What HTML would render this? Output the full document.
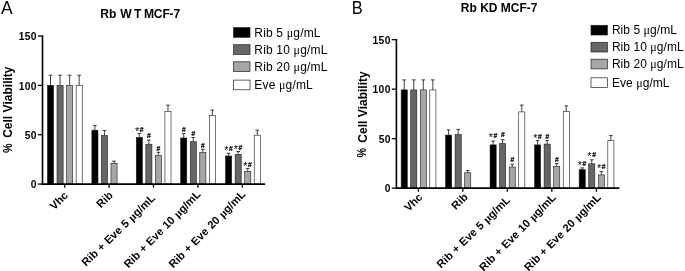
<!DOCTYPE html>
<html lang="en"><head><meta charset="utf-8"><title>Cell viability: Rb WT and Rb KD MCF-7</title>
<style>
html,body{margin:0;padding:0;background:#fff;}
body{width:685px;height:271px;overflow:hidden;}
svg{display:block;}
.mu{font-family:"Liberation Serif","DejaVu Serif",serif;font-weight:normal;}
.mub{font-family:"Liberation Serif","DejaVu Serif",serif;font-weight:bold;}
</style></head><body>
<svg width="685" height="271" viewBox="0 0 685 271" font-family='"Liberation Sans", Arial, sans-serif' fill="#000" style="font-kerning:none">
<rect width="685" height="271" fill="#fff"/>
<text transform="translate(0.9 14.1) scale(0.96 1)" font-size="18.2">A</text>
<text transform="translate(351.7 14.4) scale(0.9 1)" font-size="18.2">B</text>
<text y="18.3" font-size="12.1" font-weight="bold"><tspan x="100.2">Rb </tspan><tspan x="120.2">W</tspan><tspan x="134.0">T </tspan><tspan x="144.0" letter-spacing="-0.2">MCF-7</tspan></text>
<text x="499.2" y="12.3" text-anchor="middle" font-size="12" font-weight="bold">Rb KD MCF-7</text>
<text transform="translate(11.6 152.9) rotate(-90) scale(0.9 1.08)" font-size="12" font-weight="bold">%</text>
<text transform="translate(11.7 66.5) rotate(-90)" text-anchor="end" font-size="12" font-weight="bold">Cell Viability</text>
<text transform="translate(366.4 157.5) rotate(-90) scale(0.9 1.08)" font-size="12" font-weight="bold">%</text>
<text transform="translate(366.5 71.3) rotate(-90)" text-anchor="end" font-size="12" font-weight="bold">Cell Viability</text>
<path d="M50.52 85.30V75.20M48.67 75.20H52.38" stroke="#111" stroke-width="0.8" fill="none"/>
<rect x="47.48" y="85.30" width="6.10" height="98.75" fill="#000000" stroke="#1a1a1a" stroke-width="0.6"/>
<path d="M60.07 85.30V75.20M58.22 75.20H61.92" stroke="#111" stroke-width="0.8" fill="none"/>
<rect x="57.02" y="85.30" width="6.10" height="98.75" fill="#666666" stroke="#1a1a1a" stroke-width="0.6"/>
<path d="M69.63 85.30V75.20M67.78 75.20H71.48" stroke="#111" stroke-width="0.8" fill="none"/>
<rect x="66.58" y="85.30" width="6.10" height="98.75" fill="#a6a6a6" stroke="#1a1a1a" stroke-width="0.6"/>
<path d="M79.18 85.30V75.20M77.33 75.20H81.03" stroke="#111" stroke-width="0.8" fill="none"/>
<rect x="76.13" y="85.30" width="6.10" height="98.75" fill="#ffffff" stroke="#1a1a1a" stroke-width="0.6"/>
<path d="M94.92 130.20V125.40M93.08 125.40H96.77" stroke="#111" stroke-width="0.8" fill="none"/>
<rect x="91.88" y="130.20" width="6.10" height="53.85" fill="#000000" stroke="#1a1a1a" stroke-width="0.6"/>
<path d="M104.47 135.50V130.50M102.62 130.50H106.32" stroke="#111" stroke-width="0.8" fill="none"/>
<rect x="101.42" y="135.50" width="6.10" height="48.55" fill="#666666" stroke="#1a1a1a" stroke-width="0.6"/>
<path d="M114.02 163.30V161.10M112.17 161.10H115.87" stroke="#111" stroke-width="0.8" fill="none"/>
<rect x="110.97" y="163.30" width="6.10" height="20.75" fill="#a6a6a6" stroke="#1a1a1a" stroke-width="0.6"/>
<path d="M139.33 137.50V133.60M137.48 133.60H141.18" stroke="#111" stroke-width="0.8" fill="none"/>
<rect x="136.28" y="137.50" width="6.10" height="46.55" fill="#000000" stroke="#1a1a1a" stroke-width="0.6"/>
<path d="M148.88 144.20V140.20M147.03 140.20H150.73" stroke="#111" stroke-width="0.8" fill="none"/>
<rect x="145.83" y="144.20" width="6.10" height="39.85" fill="#666666" stroke="#1a1a1a" stroke-width="0.6"/>
<path d="M158.43 155.50V152.30M156.58 152.30H160.28" stroke="#111" stroke-width="0.8" fill="none"/>
<rect x="155.38" y="155.50" width="6.10" height="28.55" fill="#a6a6a6" stroke="#1a1a1a" stroke-width="0.6"/>
<path d="M167.98 111.50V105.20M166.13 105.20H169.83" stroke="#111" stroke-width="0.8" fill="none"/>
<rect x="164.93" y="111.50" width="6.10" height="72.55" fill="#ffffff" stroke="#1a1a1a" stroke-width="0.6"/>
<path d="M183.73 138.00V133.60M181.88 133.60H185.58" stroke="#111" stroke-width="0.8" fill="none"/>
<rect x="180.68" y="138.00" width="6.10" height="46.05" fill="#000000" stroke="#1a1a1a" stroke-width="0.6"/>
<path d="M193.28 141.70V137.50M191.43 137.50H195.13" stroke="#111" stroke-width="0.8" fill="none"/>
<rect x="190.23" y="141.70" width="6.10" height="42.35" fill="#666666" stroke="#1a1a1a" stroke-width="0.6"/>
<path d="M202.83 152.60V149.30M200.98 149.30H204.68" stroke="#111" stroke-width="0.8" fill="none"/>
<rect x="199.78" y="152.60" width="6.10" height="31.45" fill="#a6a6a6" stroke="#1a1a1a" stroke-width="0.6"/>
<path d="M212.38 115.50V110.00M210.53 110.00H214.23" stroke="#111" stroke-width="0.8" fill="none"/>
<rect x="209.33" y="115.50" width="6.10" height="68.55" fill="#ffffff" stroke="#1a1a1a" stroke-width="0.6"/>
<path d="M228.63 156.00V153.30M226.78 153.30H230.48" stroke="#111" stroke-width="0.8" fill="none"/>
<rect x="225.58" y="156.00" width="6.10" height="28.05" fill="#000000" stroke="#1a1a1a" stroke-width="0.6"/>
<path d="M238.18 154.50V151.50M236.33 151.50H240.03" stroke="#111" stroke-width="0.8" fill="none"/>
<rect x="235.13" y="154.50" width="6.10" height="29.55" fill="#666666" stroke="#1a1a1a" stroke-width="0.6"/>
<path d="M247.73 171.40V168.40M245.88 168.40H249.58" stroke="#111" stroke-width="0.8" fill="none"/>
<rect x="244.68" y="171.40" width="6.10" height="12.65" fill="#a6a6a6" stroke="#1a1a1a" stroke-width="0.6"/>
<path d="M257.28 135.20V130.20M255.43 130.20H259.13" stroke="#111" stroke-width="0.8" fill="none"/>
<rect x="254.23" y="135.20" width="6.10" height="48.85" fill="#ffffff" stroke="#1a1a1a" stroke-width="0.6"/>
<path d="M42.50 35.30V184.95" stroke="#000" stroke-width="1.6" fill="none"/>
<path d="M41.75 184.05H265.10" stroke="#000" stroke-width="1.8" fill="none"/>
<path d="M37.90 184.05H42.50" stroke="#000" stroke-width="1.3"/>
<text x="36.80" y="188.20" text-anchor="end" font-size="10.3" font-weight="bold" letter-spacing="0.3">0</text>
<path d="M37.90 134.72H42.50" stroke="#000" stroke-width="1.3"/>
<text x="36.80" y="138.87" text-anchor="end" font-size="10.3" font-weight="bold" letter-spacing="0.3">50</text>
<path d="M37.90 85.38H42.50" stroke="#000" stroke-width="1.3"/>
<text x="36.80" y="89.53" text-anchor="end" font-size="10.3" font-weight="bold" letter-spacing="0.3">100</text>
<path d="M37.90 36.05H42.50" stroke="#000" stroke-width="1.3"/>
<text x="36.80" y="40.20" text-anchor="end" font-size="10.3" font-weight="bold" letter-spacing="0.3">150</text>
<path d="M64.70 184.05V187.65" stroke="#000" stroke-width="1.3"/>
<path d="M109.10 184.05V187.65" stroke="#000" stroke-width="1.3"/>
<path d="M153.50 184.05V187.65" stroke="#000" stroke-width="1.3"/>
<path d="M197.90 184.05V187.65" stroke="#000" stroke-width="1.3"/>
<path d="M242.30 184.05V187.65" stroke="#000" stroke-width="1.3"/>
<text transform="translate(68.60 196.30) rotate(-44.5)" text-anchor="end" font-size="11.05" font-weight="bold" word-spacing="0.6">Vhc</text>
<text transform="translate(113.50 196.10) rotate(-44.5)" text-anchor="end" font-size="11.05" font-weight="bold" word-spacing="0.6">Rib</text>
<text transform="translate(155.90 198.90) rotate(-44.2)" text-anchor="end" font-size="11.05" font-weight="bold" word-spacing="0.6">Rib + Eve 5 <tspan class="mub">μ</tspan>g/mL</text>
<text transform="translate(201.20 195.00) rotate(-45.3)" text-anchor="end" font-size="11.05" font-weight="bold" word-spacing="0.6">Rib + Eve 10 <tspan class="mub">μ</tspan>g/mL</text>
<text transform="translate(246.10 195.00) rotate(-45.3)" text-anchor="end" font-size="11.05" font-weight="bold" word-spacing="0.6">Rib + Eve 20 <tspan class="mub">μ</tspan>g/mL</text>
<text x="134.91" y="134.60" font-size="10.8">*</text>
<text x="139.71" y="131.65" font-size="6.7" font-weight="bold" stroke="#000" stroke-width="0.22">#</text>
<text x="147.07" y="138.25" font-size="6.7" font-weight="bold" stroke="#000" stroke-width="0.22">#</text>
<text x="156.62" y="150.55" font-size="6.7" font-weight="bold" stroke="#000" stroke-width="0.22">#</text>
<text x="181.93" y="131.55" font-size="6.7" font-weight="bold" stroke="#000" stroke-width="0.22">#</text>
<text x="191.47" y="136.15" font-size="6.7" font-weight="bold" stroke="#000" stroke-width="0.22">#</text>
<text x="201.03" y="148.25" font-size="6.7" font-weight="bold" stroke="#000" stroke-width="0.22">#</text>
<text x="224.21" y="153.50" font-size="10.8">*</text>
<text x="229.01" y="150.55" font-size="6.7" font-weight="bold" stroke="#000" stroke-width="0.22">#</text>
<text x="233.76" y="153.10" font-size="10.8">*</text>
<text x="238.56" y="150.15" font-size="6.7" font-weight="bold" stroke="#000" stroke-width="0.22">#</text>
<text x="243.31" y="169.90" font-size="10.8">*</text>
<text x="248.11" y="166.95" font-size="6.7" font-weight="bold" stroke="#000" stroke-width="0.22">#</text>
<path d="M404.22 89.90V79.90M402.37 79.90H406.07" stroke="#111" stroke-width="0.8" fill="none"/>
<rect x="401.17" y="89.90" width="6.10" height="98.25" fill="#000000" stroke="#1a1a1a" stroke-width="0.6"/>
<path d="M413.77 89.90V79.90M411.92 79.90H415.62" stroke="#111" stroke-width="0.8" fill="none"/>
<rect x="410.72" y="89.90" width="6.10" height="98.25" fill="#666666" stroke="#1a1a1a" stroke-width="0.6"/>
<path d="M423.32 89.90V79.90M421.47 79.90H425.18" stroke="#111" stroke-width="0.8" fill="none"/>
<rect x="420.27" y="89.90" width="6.10" height="98.25" fill="#a6a6a6" stroke="#1a1a1a" stroke-width="0.6"/>
<path d="M432.87 89.90V79.90M431.02 79.90H434.72" stroke="#111" stroke-width="0.8" fill="none"/>
<rect x="429.82" y="89.90" width="6.10" height="98.25" fill="#ffffff" stroke="#1a1a1a" stroke-width="0.6"/>
<path d="M448.62 135.10V129.90M446.77 129.90H450.48" stroke="#111" stroke-width="0.8" fill="none"/>
<rect x="445.57" y="135.10" width="6.10" height="53.05" fill="#000000" stroke="#1a1a1a" stroke-width="0.6"/>
<path d="M458.18 134.60V129.40M456.32 129.40H460.03" stroke="#111" stroke-width="0.8" fill="none"/>
<rect x="455.12" y="134.60" width="6.10" height="53.55" fill="#666666" stroke="#1a1a1a" stroke-width="0.6"/>
<path d="M467.73 172.80V170.60M465.88 170.60H469.58" stroke="#111" stroke-width="0.8" fill="none"/>
<rect x="464.68" y="172.80" width="6.10" height="15.35" fill="#a6a6a6" stroke="#1a1a1a" stroke-width="0.6"/>
<path d="M493.12 144.90V141.00M491.27 141.00H494.98" stroke="#111" stroke-width="0.8" fill="none"/>
<rect x="490.07" y="144.90" width="6.10" height="43.25" fill="#000000" stroke="#1a1a1a" stroke-width="0.6"/>
<path d="M502.68 143.70V139.70M500.82 139.70H504.53" stroke="#111" stroke-width="0.8" fill="none"/>
<rect x="499.62" y="143.70" width="6.10" height="44.45" fill="#666666" stroke="#1a1a1a" stroke-width="0.6"/>
<path d="M512.23 167.00V164.30M510.38 164.30H514.08" stroke="#111" stroke-width="0.8" fill="none"/>
<rect x="509.18" y="167.00" width="6.10" height="21.15" fill="#a6a6a6" stroke="#1a1a1a" stroke-width="0.6"/>
<path d="M521.77 111.90V105.10M519.92 105.10H523.62" stroke="#111" stroke-width="0.8" fill="none"/>
<rect x="518.73" y="111.90" width="6.10" height="76.25" fill="#ffffff" stroke="#1a1a1a" stroke-width="0.6"/>
<path d="M537.62 144.90V140.70M535.77 140.70H539.47" stroke="#111" stroke-width="0.8" fill="none"/>
<rect x="534.57" y="144.90" width="6.10" height="43.25" fill="#000000" stroke="#1a1a1a" stroke-width="0.6"/>
<path d="M547.17 144.10V140.40M545.32 140.40H549.02" stroke="#111" stroke-width="0.8" fill="none"/>
<rect x="544.12" y="144.10" width="6.10" height="44.05" fill="#666666" stroke="#1a1a1a" stroke-width="0.6"/>
<path d="M556.72 166.50V163.60M554.87 163.60H558.57" stroke="#111" stroke-width="0.8" fill="none"/>
<rect x="553.67" y="166.50" width="6.10" height="21.65" fill="#a6a6a6" stroke="#1a1a1a" stroke-width="0.6"/>
<path d="M566.27 111.50V105.90M564.42 105.90H568.12" stroke="#111" stroke-width="0.8" fill="none"/>
<rect x="563.22" y="111.50" width="6.10" height="76.65" fill="#ffffff" stroke="#1a1a1a" stroke-width="0.6"/>
<path d="M582.22 169.70V167.90M580.37 167.90H584.07" stroke="#111" stroke-width="0.8" fill="none"/>
<rect x="579.17" y="169.70" width="6.10" height="18.45" fill="#000000" stroke="#1a1a1a" stroke-width="0.6"/>
<path d="M591.77 163.80V159.80M589.92 159.80H593.62" stroke="#111" stroke-width="0.8" fill="none"/>
<rect x="588.72" y="163.80" width="6.10" height="24.35" fill="#666666" stroke="#1a1a1a" stroke-width="0.6"/>
<path d="M601.32 174.90V171.60M599.47 171.60H603.17" stroke="#111" stroke-width="0.8" fill="none"/>
<rect x="598.27" y="174.90" width="6.10" height="13.25" fill="#a6a6a6" stroke="#1a1a1a" stroke-width="0.6"/>
<path d="M610.87 140.70V135.60M609.02 135.60H612.72" stroke="#111" stroke-width="0.8" fill="none"/>
<rect x="607.82" y="140.70" width="6.10" height="47.45" fill="#ffffff" stroke="#1a1a1a" stroke-width="0.6"/>
<path d="M396.40 38.90V189.05" stroke="#000" stroke-width="1.6" fill="none"/>
<path d="M395.65 188.15H619.40" stroke="#000" stroke-width="1.8" fill="none"/>
<path d="M391.80 188.15H396.40" stroke="#000" stroke-width="1.3"/>
<text x="390.70" y="192.30" text-anchor="end" font-size="10.3" font-weight="bold" letter-spacing="0.3">0</text>
<path d="M391.80 138.65H396.40" stroke="#000" stroke-width="1.3"/>
<text x="390.70" y="142.80" text-anchor="end" font-size="10.3" font-weight="bold" letter-spacing="0.3">50</text>
<path d="M391.80 89.15H396.40" stroke="#000" stroke-width="1.3"/>
<text x="390.70" y="93.30" text-anchor="end" font-size="10.3" font-weight="bold" letter-spacing="0.3">100</text>
<path d="M391.80 39.65H396.40" stroke="#000" stroke-width="1.3"/>
<text x="390.70" y="43.80" text-anchor="end" font-size="10.3" font-weight="bold" letter-spacing="0.3">150</text>
<path d="M418.40 188.15V191.75" stroke="#000" stroke-width="1.3"/>
<path d="M462.80 188.15V191.75" stroke="#000" stroke-width="1.3"/>
<path d="M507.30 188.15V191.75" stroke="#000" stroke-width="1.3"/>
<path d="M551.80 188.15V191.75" stroke="#000" stroke-width="1.3"/>
<path d="M596.40 188.15V191.75" stroke="#000" stroke-width="1.3"/>
<text transform="translate(423.10 197.90) rotate(-44.5)" text-anchor="end" font-size="11.05" font-weight="bold" word-spacing="0.6">Vhc</text>
<text transform="translate(468.50 197.70) rotate(-44.5)" text-anchor="end" font-size="11.05" font-weight="bold" word-spacing="0.6">Rib</text>
<text transform="translate(510.80 200.80) rotate(-44.2)" text-anchor="end" font-size="11.05" font-weight="bold" word-spacing="0.6">Rib + Eve 5 <tspan class="mub">μ</tspan>g/mL</text>
<text transform="translate(556.60 198.10) rotate(-45.3)" text-anchor="end" font-size="11.05" font-weight="bold" word-spacing="0.6">Rib + Eve 10 <tspan class="mub">μ</tspan>g/mL</text>
<text transform="translate(601.50 198.10) rotate(-45.3)" text-anchor="end" font-size="11.05" font-weight="bold" word-spacing="0.6">Rib + Eve 20 <tspan class="mub">μ</tspan>g/mL</text>
<text x="488.70" y="141.30" font-size="10.8">*</text>
<text x="493.50" y="138.35" font-size="6.7" font-weight="bold" stroke="#000" stroke-width="0.22">#</text>
<text x="500.88" y="137.05" font-size="6.7" font-weight="bold" stroke="#000" stroke-width="0.22">#</text>
<text x="510.43" y="162.25" font-size="6.7" font-weight="bold" stroke="#000" stroke-width="0.22">#</text>
<text x="533.20" y="141.90" font-size="10.8">*</text>
<text x="538.00" y="138.95" font-size="6.7" font-weight="bold" stroke="#000" stroke-width="0.22">#</text>
<text x="545.38" y="138.65" font-size="6.7" font-weight="bold" stroke="#000" stroke-width="0.22">#</text>
<text x="554.92" y="161.95" font-size="6.7" font-weight="bold" stroke="#000" stroke-width="0.22">#</text>
<text x="577.80" y="168.80" font-size="10.8">*</text>
<text x="582.60" y="165.85" font-size="6.7" font-weight="bold" stroke="#000" stroke-width="0.22">#</text>
<text x="587.36" y="160.00" font-size="10.8">*</text>
<text x="592.15" y="157.05" font-size="6.7" font-weight="bold" stroke="#000" stroke-width="0.22">#</text>
<text x="596.90" y="171.70" font-size="10.8">*</text>
<text x="601.70" y="168.75" font-size="6.7" font-weight="bold" stroke="#000" stroke-width="0.22">#</text>
<rect x="233.60" y="27.60" width="16.4" height="9.7" fill="#000000" stroke="#222" stroke-width="0.7"/>
<text x="254.30" y="36.70" font-size="12" letter-spacing="0.17">Rib 5 <tspan class="mu">μ</tspan>g/mL</text>
<rect x="233.60" y="44.70" width="16.4" height="9.7" fill="#666666" stroke="#222" stroke-width="0.7"/>
<text x="254.30" y="53.80" font-size="12" letter-spacing="0.17">Rib 10 <tspan class="mu">μ</tspan>g/mL</text>
<rect x="233.60" y="61.80" width="16.4" height="9.7" fill="#a6a6a6" stroke="#222" stroke-width="0.7"/>
<text x="254.30" y="70.90" font-size="12" letter-spacing="0.17">Rib 20 <tspan class="mu">μ</tspan>g/mL</text>
<rect x="233.60" y="80.10" width="16.4" height="9.7" fill="#ffffff" stroke="#222" stroke-width="0.7"/>
<text x="254.30" y="89.20" font-size="12" letter-spacing="0.17">Eve <tspan class="mu">μ</tspan>g/mL</text>
<rect x="591.00" y="25.30" width="16.4" height="9.7" fill="#000000" stroke="#222" stroke-width="0.7"/>
<text x="611.90" y="34.40" font-size="12" letter-spacing="0.06">Rib 5 <tspan class="mu">μ</tspan>g/mL</text>
<rect x="591.00" y="42.30" width="16.4" height="9.7" fill="#666666" stroke="#222" stroke-width="0.7"/>
<text x="611.90" y="51.40" font-size="12" letter-spacing="0.06">Rib 10 <tspan class="mu">μ</tspan>g/mL</text>
<rect x="591.00" y="59.20" width="16.4" height="9.7" fill="#a6a6a6" stroke="#222" stroke-width="0.7"/>
<text x="611.90" y="68.30" font-size="12" letter-spacing="0.06">Rib 20 <tspan class="mu">μ</tspan>g/mL</text>
<rect x="591.00" y="77.80" width="16.4" height="9.7" fill="#ffffff" stroke="#222" stroke-width="0.7"/>
<text x="611.90" y="86.90" font-size="12" letter-spacing="0.06">Eve <tspan class="mu">μ</tspan>g/mL</text>
</svg>
</body></html>
